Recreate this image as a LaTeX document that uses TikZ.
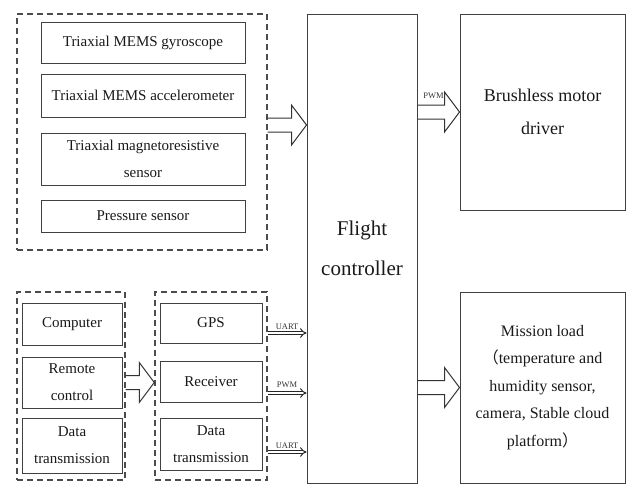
\documentclass[tikz,border=0pt]{standalone}
\usepackage{fontspec}
\setmainfont{Liberation Serif}
\newfontfamily\cjkfont{Noto Sans CJK SC}
\usepackage{tikz}
\usetikzlibrary{calc,arrows.meta}
\tikzset{box/.style={draw=black!75, line width=1pt, align=center, inner sep=0pt, text=black!90,
        font=\fontsize{15}{27}\selectfont},
    group/.style={draw=black!70, line width=1.4pt, dash pattern=on 6pt off 4pt, inner sep=0pt},
    bigtext/.style={font=\fontsize{18}{33}\selectfont},
    hugetext/.style={font=\fontsize{21}{40}\selectfont},
    missiontext/.style={font=\fontsize{16}{27.5}\selectfont},
    bus/.style={draw=black!85, line width=1pt, double, double distance=2.2pt, -{Implies[scale=1.2]}},
    buslabel/.style={font=\fontsize{8.5}{9}\selectfont, text=black!80, inner sep=1pt},
    fat/.style={draw=black!80, line width=1pt, line join=miter}}
\newcommand{\fatarrow}[2]{%
    \draw[fat] let \p1=(#1), \p2=(#2) in
        (\x1,\y1+7pt) -- (\x2-15pt,\y1+7pt) -- (\x2-15pt,\y1+20pt) -- (\x2,\y1)
        -- (\x2-15pt,\y1-20pt) -- (\x2-15pt,\y1-7pt) -- (\x1,\y1-7pt);}

\begin{document}
\begin{tikzpicture}[x=1pt, y=-1pt]
    \useasboundingbox (0,0) rectangle (630,485);

    \node[group, minimum width=250pt, minimum height=236pt] (sensors) at (142,132) {};
    \node[box, minimum width=204pt, minimum height=41pt] (gyro) at (143,42.5) {Triaxial MEMS gyroscope};
    \node[box, minimum width=204pt, minimum height=43pt] (accel) at (143,95.5) {Triaxial MEMS accelerometer};
    \node[box, minimum width=204pt, minimum height=52pt] (magneto) at (143,159) {Triaxial magnetoresistive\\sensor};
    \node[box, minimum width=204pt, minimum height=32pt] (pressure) at (143,216) {Pressure sensor};

    \node[group, minimum width=108pt, minimum height=188pt] (ground) at (71,386) {};
    \node[box, minimum width=100pt, minimum height=42pt] (computer) at (72,324) {Computer};
    \node[box, minimum width=100pt, minimum height=51pt] (remote) at (72,382.5) {Remote\\control};
    \node[box, minimum width=100pt, minimum height=55pt] (groundlink) at (72,445.5) {Data\\transmission};

    \node[group, minimum width=112pt, minimum height=188pt] (onboard) at (211,386) {};
    \node[box, minimum width=102pt, minimum height=40pt] (gps) at (211,323) {GPS};
    \node[box, minimum width=102pt, minimum height=41pt] (receiver) at (211,381.5) {Receiver};
    \node[box, minimum width=102pt, minimum height=52pt] (airlink) at (211,444) {Data\\transmission};

    \node[box, hugetext, minimum width=110pt, minimum height=469pt] (fc) at (362,248.5) {Flight\\controller};
    \node[box, bigtext, minimum width=165pt, minimum height=196pt] (motor) at (542.5,112) {Brushless motor\\driver};
    \node[box, missiontext, minimum width=165pt, minimum height=191pt] (mission) at (542.5,387.5)
        {Mission load\\{\cjkfont （}temperature and\\humidity sensor,\\camera, Stable cloud\\platform{\cjkfont ）}};

    \coordinate (sensout) at ([yshift=7pt]sensors.east);
    \fatarrow{sensout}{sensout -| fc.west}
    \fatarrow{remote -| ground.east}{remote -| onboard.west}
    \fatarrow{motor.west -| fc.east}{motor.west}
    \fatarrow{mission.west -| fc.east}{mission.west}
    \node[buslabel, anchor=south] (pwmtop) at ($(motor.west -| fc.east)+(16,-12)$) {PWM};

    \draw[bus] ([yshift=-10pt]gps -| onboard.east) -- ([yshift=-10pt]gps -| fc.west)
        node[buslabel, midway, above=2pt] {UART};
    \draw[bus] ([yshift=-11.5pt]receiver -| onboard.east) -- ([yshift=-11.5pt]receiver -| fc.west)
        node[buslabel, midway, above=4pt] {PWM};
    \draw[bus] ([yshift=-8pt]airlink -| onboard.east) -- ([yshift=-8pt]airlink -| fc.west)
        node[buslabel, midway, above=2pt] {UART};
\end{tikzpicture}
\end{document}
